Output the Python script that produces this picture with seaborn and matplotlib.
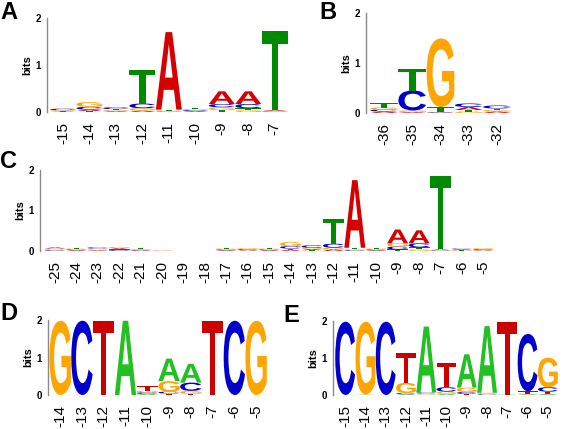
import matplotlib
matplotlib.use("Agg")
import matplotlib.pyplot as plt
import matplotlib.transforms as mtransforms
from matplotlib.textpath import TextPath
from matplotlib.patches import PathPatch
from matplotlib.font_manager import FontProperties
import seaborn as sns

# sequence logo data: information (bits) per base at each position
# panel A
pos_a = ['-15', '-14', '-13', '-12', '-11', '-10', '-9', '-8', '-7']
a_A = [0.01, 0.03, 0.02, 0.03, 1.65, 0.02, 0.27, 0.27, 0.02]
a_C = [0.03, 0.06, 0.04, 0.10, 0.01, 0.02, 0.07, 0.09, 0.01]
a_G = [0.02, 0.10, 0.02, 0.05, 0.02, 0.02, 0.06, 0.04, 0.01]
a_T = [0.01, 0.02, 0.02, 0.72, 0.02, 0.03, 0.04, 0.04, 1.69]

# panel B
pos_b = ['-36', '-35', '-34', '-33', '-32']
b_A = [0.03, 0.02, 0.01, 0.06, 0.03]
b_C = [0.04, 0.40, 0.01, 0.07, 0.06]
b_G = [0.04, 0.03, 1.37, 0.03, 0.03]
b_T = [0.09, 0.43, 0.10, 0.03, 0.03]

# panel C
pos_c = ['-25', '-24', '-23', '-22', '-21', '-20', '-19', '-18', '-17', '-16', '-15',
         '-14', '-13', '-12', '-11', '-10', '-9', '-8', '-7', '-6', '-5']
c_A = [0.03, 0.02, 0.02, 0.03, 0.02, 0.005, 0, 0, 0.02, 0.02, 0.02,
       0.03, 0.03, 0.04, 1.67, 0.02, 0.34, 0.32, 0.02, 0.02, 0.02]
c_C = [0.02, 0.02, 0.03, 0.02, 0.01, 0.003, 0, 0, 0.02, 0.02, 0.02,
       0.06, 0.06, 0.10, 0.02, 0.02, 0.07, 0.10, 0.01, 0.02, 0.02]
c_G = [0.02, 0.02, 0.02, 0.03, 0.02, 0.005, 0, 0, 0.02, 0.02, 0.02,
       0.10, 0.03, 0.04, 0.02, 0.02, 0.08, 0.04, 0.01, 0.01, 0.02]
c_T = [0.02, 0.02, 0.02, 0.02, 0.02, 0.003, 0, 0, 0.02, 0.01, 0.02,
       0.03, 0.02, 0.62, 0.04, 0.02, 0.04, 0.05, 1.82, 0.01, 0.01]

# panel D
pos_d = ['-14', '-13', '-12', '-11', '-10', '-9', '-8', '-7', '-6', '-5']
d_A = [0, 0, 0, 1.98, 0.03, 0.60, 0.50, 0, 0, 0]
d_C = [0, 1.98, 0, 0, 0.04, 0.05, 0.22, 0, 1.98, 0]
d_G = [1.98, 0, 0, 0, 0.04, 0.28, 0.08, 0, 0, 1.98]
d_T = [0, 0, 1.98, 0, 0.12, 0.04, 0.03, 1.98, 0, 0]

# panel E
pos_e = ['-15', '-14', '-13', '-12', '-11', '-10', '-9', '-8', '-7', '-6', '-5']
e_A = [0, 0.01, 0, 0.02, 1.78, 0.03, 0.90, 1.80, 0.01, 0.02, 0.03]
e_C = [1.98, 0, 1.98, 0.03, 0.03, 0.12, 0.05, 0.02, 0, 1.55, 0.12]
e_G = [0, 1.97, 0, 0.28, 0.02, 0.06, 0.12, 0.03, 0, 0.02, 0.80]
e_T = [0, 0, 0, 0.80, 0.02, 0.66, 0.03, 0.01, 1.96, 0.06, 0.06]

cols_1 = {'A': '#d60000', 'C': '#0000cc', 'G': '#ffa500', 'T': '#008a00'}
cols_2 = {'A': '#22c022', 'C': '#0000cc', 'G': '#ffa500', 'T': '#cc0000'}

sns.set_style('white')
plt.rcParams['font.family'] = ['Liberation Sans', 'DejaVu Sans']
plt.rcParams['text.color'] = 'black'
plt.rcParams['xtick.color'] = 'black'
plt.rcParams['ytick.color'] = 'black'
plt.rcParams['axes.labelcolor'] = 'black'

fp = FontProperties(family='Liberation Sans', weight='bold')
glyphs = {ch: TextPath((0, 0), ch, size=1, prop=fp) for ch in 'ACGT'}

W, H = 563, 429
fig = plt.figure(figsize=(W / 100, H / 100), dpi=100)


def draw_letter(ax, ch, x, y0, h, color, width=0.98):
    p = glyphs[ch]
    bb = p.get_extents()
    t = (mtransforms.Affine2D().translate(-bb.x0, -bb.y0)
         .scale(width / bb.width, h / bb.height)
         .translate(x - width / 2, y0))
    ax.add_patch(PathPatch(t.transform_path(p), fc=color, ec='none', lw=0))


def logo(box, xlim, labels, A, C, G, T, colors, tick_fs=11):
    l, r, t, b = box
    ax = fig.add_axes([l / W, 1 - b / H, (r - l) / W, (b - t) / H])
    for i in range(len(labels)):
        stack = sorted([('A', A[i]), ('C', C[i]), ('G', G[i]), ('T', T[i])],
                       key=lambda s: s[1])
        y = 0
        for ch, h in stack:
            if h > 0:
                draw_letter(ax, ch, i, y, h, colors[ch])
                y += h
    ax.set_xlim(*xlim)
    ax.set_ylim(0, 2)
    ax.set_xticks(range(len(labels)))
    ax.set_xticklabels(labels, rotation=90, fontsize=tick_fs)
    ax.set_yticks([0, 1, 2])
    ax.set_yticklabels(['0', '1', '2'], fontsize=7, fontweight='bold')
    ax.tick_params(axis='x', length=0, pad=7)
    ax.tick_params(axis='y', length=3.5, width=0.9, color='#8a8a8a', pad=1)
    ax.set_ylabel('bits', fontsize=8, fontweight='bold', labelpad=2)
    sns.despine(ax=ax, bottom=True)
    ax.spines['left'].set_color('#8a8a8a')
    ax.spines['left'].set_linewidth(1.0)
    ax.patch.set_alpha(0)
    return ax


logo((47, 288, 18, 112), (-0.6, 8.5), pos_a, a_A, a_C, a_G, a_T, cols_1)
logo((366, 511, 13, 113), (-0.64, 4.5), pos_b, b_A, b_C, b_G, b_T, cols_1)
logo((40, 494, 170, 251), (-0.7, 20.5), pos_c, c_A, c_C, c_G, c_T, cols_1)
logo((48, 267, 320, 395), (-0.56, 9.5), pos_d, d_A, d_C, d_G, d_T, cols_2)
logo((333, 558, 321, 395), (-0.6, 10.5), pos_e, e_A, e_C, e_G, e_T, cols_2)

for lab, x, y in [('A', 0, 1), ('B', 319, 1), ('C', 0, 150), ('D', 0, 302), ('E', 283, 304)]:
    fig.text(x / W, 1 - y / H, lab, fontsize=17, fontweight='bold', ha='left', va='top')

fig.savefig('out.png', dpi=100)
